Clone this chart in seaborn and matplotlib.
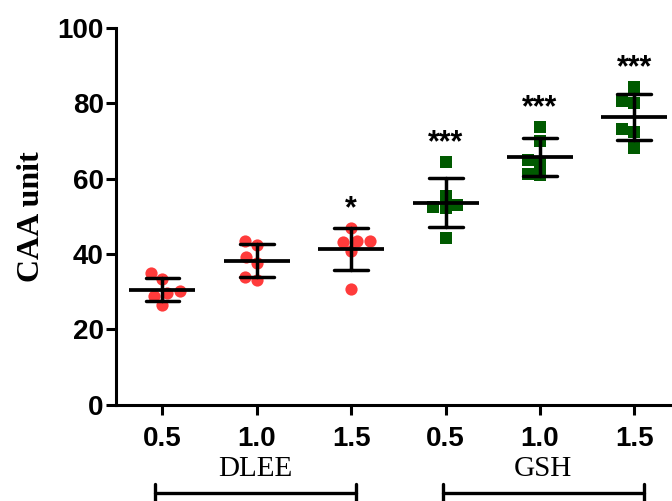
import numpy as np
import pandas as pd
import matplotlib
matplotlib.use("Agg")
import matplotlib.pyplot as plt
import matplotlib.transforms as mtransforms
import seaborn as sns

# Values (CAA unit), six animals per group
doses = ["0.5", "1.0", "1.5"]
dlee_05 = [34.9, 33.3, 29.8, 30.1, 29.0, 26.5]
dlee_10 = [42.4, 43.4, 39.3, 37.6, 33.0, 33.9]
dlee_15 = [46.9, 43.2, 43.6, 43.6, 40.7, 30.8]
gsh_05 = [64.5, 55.4, 52.6, 52.2, 53.1, 44.2]
gsh_10 = [73.7, 70.0, 64.3, 65.0, 61.3, 61.0]
gsh_15 = [84.3, 80.0, 80.7, 73.1, 72.5, 68.1]
stars = ["", "", "*", "***", "***", "***"]

groups = {
    "DLEE 0.5": dlee_05, "DLEE 1.0": dlee_10, "DLEE 1.5": dlee_15,
    "GSH 0.5": gsh_05, "GSH 1.0": gsh_10, "GSH 1.5": gsh_15,
}
order = list(groups.keys())

rows = []
for name, vals in groups.items():
    for v in vals:
        rows.append({"group": name, "treat": name.split()[0], "caa": v})
df = pd.DataFrame(rows)

sns.set_style("ticks")
plt.rcParams["font.family"] = ["Liberation Sans", "DejaVu Sans"]
plt.rcParams.update({"text.color": "black", "axes.labelcolor": "black",
                     "xtick.color": "black", "ytick.color": "black"})

fig = plt.figure(figsize=(6.72, 5.01), dpi=100)
ax = fig.add_axes([0.173, 0.192, 0.827, 0.752])

# individual points
sns.swarmplot(data=df[df.treat == "DLEE"], x="group", y="caa", order=order,
              color="#ff3b3b", marker="o", size=8.8, linewidth=0, ax=ax, zorder=2)
sns.swarmplot(data=df[df.treat == "GSH"], x="group", y="caa", order=order,
              color="#005a00", marker="s", size=8.4, linewidth=0, ax=ax, zorder=2)

# mean +/- SD
sns.pointplot(data=df, x="group", y="caa", order=order, errorbar="sd",
              capsize=0.36, color="black", linestyle="none", marker="_",
              markersize=48, markeredgewidth=2.7,
              err_kws={"linewidth": 2.5}, ax=ax, zorder=5)

ax.set_xlim(-0.49, 5.4)
ax.set_ylim(0, 100)
ax.set_yticks([0, 20, 40, 60, 80, 100])
ax.set_xticks(range(len(order)))
ax.set_xticklabels(doses + doses)
ax.set_xlabel("")
ax.set_ylabel("CAA unit", family=["Liberation Serif"], fontweight="bold",
              fontsize=23, labelpad=8)

for lab in ax.get_xticklabels() + ax.get_yticklabels():
    lab.set_fontweight("bold")
    lab.set_fontsize(20)

ax.tick_params(axis="both", width=2.2, length=7, color="black")
ax.tick_params(axis="x", pad=8)
ax.tick_params(axis="y", pad=2)
sns.despine(ax=ax)
for sp in ["left", "bottom"]:
    ax.spines[sp].set_linewidth(2.2)
    ax.spines[sp].set_color("black")

# significance stars above each group
for i, name in enumerate(order):
    if stars[i]:
        ax.text(i, max(groups[name]) + 5, stars[i], ha="center", va="center",
                fontsize=22, fontweight="bold")

# treatment brackets below the axis
trans = mtransforms.blended_transform_factory(ax.transData, ax.transAxes)
for lab, (x0, x1) in [("DLEE", (-0.08, 2.05)), ("GSH", (2.97, 5.1))]:
    ax.plot([x0, x1], [-0.233, -0.233], color="black", lw=2.4,
            transform=trans, clip_on=False)
    for xx in (x0, x1):
        ax.plot([xx, xx], [-0.21, -0.26], color="black", lw=2.4,
                transform=trans, clip_on=False)
    ax.text((x0 + x1) / 2, -0.17, lab, transform=trans, ha="center",
            va="center", fontsize=21, family=["Liberation Serif"])

fig.savefig("out.png", dpi=100)
